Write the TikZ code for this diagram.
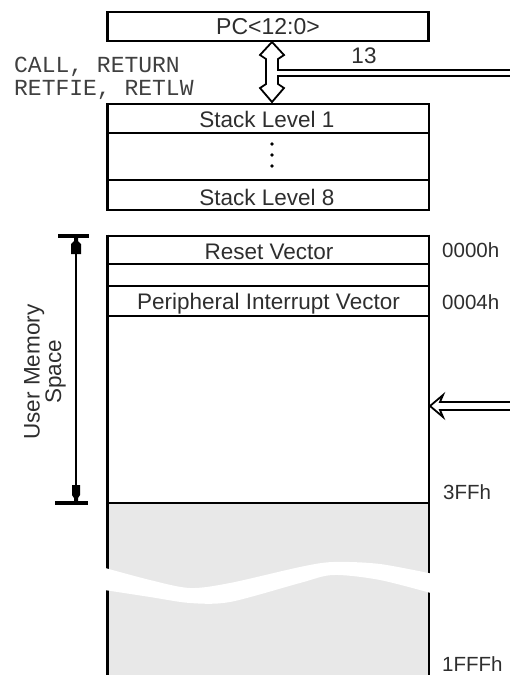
\documentclass[tikz,border=0pt]{standalone}
\usepackage{fontspec}
\setmainfont{Liberation Sans}
\newfontfamily\cmdfont{Liberation Mono}
\begin{document}
\begin{tikzpicture}[x=1pt,y=-1pt,
  lbl/.style={text=black!82, inner sep=0pt, anchor=base, font=\fontsize{22.5}{24}\selectfont},
  addr/.style={text=black!82, inner sep=0pt, anchor=base west, font=\fontsize{20.5}{22}\selectfont},
  cmd/.style={text=black!75, inner sep=0pt, anchor=base west, font=\cmdfont\fontsize{23}{23}\selectfont},
  boxline/.style={line width=2.6pt},
  thinline/.style={line width=1.5pt},
  hollow/.style={draw=black, fill=white, line width=1.8pt, line join=miter},
  grayfill/.style={fill=black!9}]
\useasboundingbox (0,0) rectangle (510,675);

% PC register
\node[draw, boxline, minimum width=321pt, minimum height=29pt, inner sep=0pt,
      text=black!82, font=\fontsize{23}{24}\selectfont] (pc) at (268,26.5) {PC<12:0>};

% Stack
\coordinate (stl) at (107.5,104);
\coordinate (str) at (429,210);
\draw[boxline] (stl) rectangle (str);
\draw[boxline] (107.5,133) -- (429,133);
\draw[boxline] (107.5,180) -- (429,180);
\node[lbl] (s1) at (267,127) {Stack Level 1};
\node[lbl] (s8) at (267,205) {Stack Level 8};
\fill (272,144) circle (1.8);
\fill (272,155) circle (1.8);
\fill (272,166) circle (1.8);

% hollow double arrow and bus from PC to stack
\draw[hollow] (272,42) -- (284,55) -- (278,59) -- (278,70) -- (516,70) -- (516,76)
  -- (278,76) -- (278,84) -- (284,88) -- (272,102) -- (260,88) -- (266,84)
  -- (266,59) -- (260,55) -- cycle;
\node[lbl] (n13) at (364,63) {13};
\node[cmd] (c1) at (14,72) {CALL, RETURN};
\node[cmd] (c2) at (14,95) {RETFIE, RETLW};

% program memory
\fill[grayfill] (107.5,503) rectangle (429,676);
\draw[boxline] (107.5,236) -- (429,236);
\draw[boxline] (107.5,264) -- (429,264);
\draw[thinline] (107.5,286) -- (429,286);
\draw[boxline] (107.5,316) -- (429,316);
\draw[boxline] (107.5,503) -- (429,503);
\draw[boxline] (107.5,234.7) -- (107.5,680);
\draw[boxline] (429,234.7) -- (429,680);
% break
\fill[white] plot[smooth] coordinates {(98,566) (150,580) (190,588) (230,583) (300,567) (333,562) (380,564) (438,575)}
  -- plot[smooth] coordinates {(438,595) (380,580) (333,575) (300,583) (230,602) (190,603) (150,597) (98,589)} -- cycle;

\node[lbl] (rv) at (269,259) {Reset Vector};
\node[lbl] (piv) at (268.5,309) {Peripheral Interrupt Vector};
\node[addr] (a0) at (442,257) {0000h};
\node[addr] (a4) at (442,309) {0004h};
\node[addr] (a3) at (443,499) {3FFh};
\node[addr] (a1) at (442,671) {1FFFh};

% hollow arrow into memory
\draw[hollow] (430,406) -- (443,395) -- (440,402) -- (516,402) -- (516,410)
  -- (440,410) -- (443,417) -- cycle;

% user memory space dimension
\coordinate (ut) at (76,236);
\coordinate (ub) at (76,503);
\draw[line width=1.5pt] (ut) -- (ub);
\draw[line width=3.5pt] (58,236) -- (89,236);
\draw[line width=3.5pt] (55,503) -- (88,503);
\fill (74,237) -- (78,237) -- (78,241) -- (81,244) -- (81,254) -- (71,254) -- (71,244) -- (74,241) -- cycle;
\fill (74,502) -- (78,502) -- (78,498) -- (80,495) -- (80,485) -- (72,485) -- (72,495) -- (74,498) -- cycle;
\node[rotate=90, align=center, inner sep=0pt, text=black!82,
      font=\fontsize{22.5}{21.5}\selectfont] (ums) at (45,372) {User Memory\\Space};
\end{tikzpicture}
\end{document}
